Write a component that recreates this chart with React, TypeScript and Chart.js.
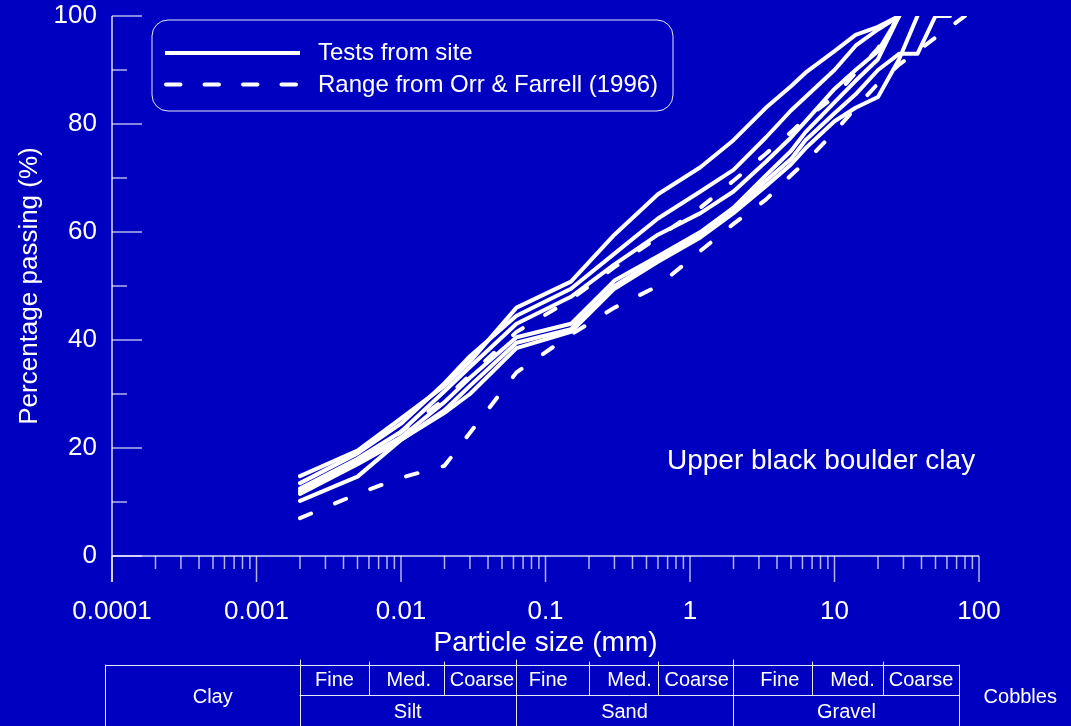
import { useEffect, useRef } from 'react';
import { Chart, registerables } from 'chart.js';

Chart.register(...registerables);

// ---- data ----
const sieveSizes = [0.002, 0.005, 0.01, 0.02, 0.03, 0.063, 0.15, 0.3, 0.6, 1.18, 2, 3.35, 5, 6.3, 10, 14, 20, 28, 37.5, 50, 63];
const test1 = [14.8, 19.5, 25.5, 31.5, 36, 46, 50.8, 59.5, 67, 72, 77, 83, 87, 89.5, 93.5, 96.5, 98, 100];
const test2 = [13.5, 19, 24.5, 32, 37, 44.5, 49.5, 56, 62.5, 67.5, 71.5, 77.5, 82.5, 85, 90, 94.5, 97.5, 100];
const test3 = [12.5, 18, 23, 30.5, 35, 43, 48, 54, 59.5, 63.5, 67.5, 73, 77.5, 80.5, 86.5, 90, 93.5, 100];
const test4 = [12, 17.5, 22, 28.5, 33, 40.5, 43, 51, 55.5, 60, 64.5, 70.5, 75, 78.5, 84, 88, 92, 100];
const test5 = [11.5, 17, 21.5, 27, 31.5, 39.5, 42, 50, 55, 59.5, 64, 69.5, 73.5, 77, 82, 85.5, 90, 93, 93, 100, 100];
const test6 = [10.2, 14.7, 21.5, 26.5, 30, 38.5, 41.5, 49.5, 54.5, 59, 63.5, 68.5, 72.5, 75.5, 80.5, 83, 85, 92, 100];

const rangeHighSizes = [0.002, 0.005, 0.01, 0.02, 0.03, 0.063, 0.15, 0.3, 0.6, 1.18, 2, 3.35, 5, 6.3, 10, 14, 20, 28];
const rangeHigh = [12, 17, 23, 29, 33.5, 41.5, 47.5, 53.5, 59, 64.5, 69.5, 74.5, 78.5, 81, 85, 89.5, 94, 100];
const rangeLowSizes = [0.002, 0.005, 0.01, 0.02, 0.063, 0.15, 0.3, 0.6, 1.18, 2, 3.35, 5, 6.3, 10, 14, 20, 28, 37.5, 50, 80];
const rangeLow = [7, 11.5, 14.5, 16.7, 34, 41, 46, 50, 56.5, 61.5, 66, 70.5, 73, 78.5, 83, 87.5, 91, 93.5, 96, 100];

const xTickValues = [0.0001, 0.001, 0.01, 0.1, 1, 10, 100];
const yTickStep = 20;

// soil classification table (particle size boundaries in mm)
const tableBounds = [0.00009, 0.002, 0.006, 0.02, 0.062, 0.2, 0.6, 2, 7, 21.6, 73];
const subLabels = ['Fine', 'Med.', 'Coarse'];
const subLabelShift = [0, 2, 2, -4, 6, 1, 7, 5, 0];
const mainLabels = ['Silt', 'Sand', 'Gravel'];

const legendLabels = ['Tests from site', 'Range from Orr & Farrell (1996)'];
const annotation = 'Upper black boulder clay';

const BG = '#0000c0';
const FONT = '"Liberation Sans", Arial, Helvetica, sans-serif';

function pts(sizes: number[], vals: number[]) {
  return vals.map((v, i) => ({ x: sizes[i], y: v }));
}

const overlay = {
  id: 'overlay',
  afterDraw(chart: any) {
    const ctx = chart.ctx as CanvasRenderingContext2D;
    const xs = chart.scales.x;
    const ys = chart.scales.y;
    const a = chart.chartArea;
    ctx.save();

    // axes lines
    ctx.strokeStyle = 'rgba(255,255,255,0.85)';
    ctx.lineWidth = 1.5;
    ctx.beginPath();
    ctx.moveTo(a.left, a.top);
    ctx.lineTo(a.left, a.bottom + 26);
    ctx.moveTo(a.left, a.bottom);
    ctx.lineTo(a.right, a.bottom);
    ctx.stroke();

    // y ticks (inward)
    ctx.strokeStyle = 'rgba(255,255,255,0.7)';
    ctx.beginPath();
    for (let v = 0; v <= 100; v += 10) {
      const py = ys.getPixelForValue(v);
      const len = v % 20 === 0 ? 30 : 15;
      ctx.moveTo(a.left, py);
      ctx.lineTo(a.left + len, py);
    }
    ctx.stroke();

    // x ticks (outward)
    ctx.beginPath();
    for (let d = -4; d <= 2; d++) {
      for (let m = 1; m <= 9; m++) {
        const v = m * Math.pow(10, d);
        if (v > 100.0001) break;
        const px = xs.getPixelForValue(v);
        const len = m === 1 ? 26 : 13;
        ctx.moveTo(px, a.bottom);
        ctx.lineTo(px, a.bottom + len);
      }
    }
    ctx.stroke();

    // axis titles
    ctx.fillStyle = '#ffffff';
    ctx.font = `28px ${FONT}`;
    ctx.textAlign = 'center';
    ctx.textBaseline = 'alphabetic';
    ctx.fillText('Particle size (mm)', (a.left + a.right) / 2, a.bottom + 95);
    ctx.font = `26px ${FONT}`;
    ctx.save();
    ctx.translate(37, (a.top + a.bottom) / 2);
    ctx.rotate(-Math.PI / 2);
    ctx.fillText('Percentage passing (%)', 0, 0);
    ctx.restore();

    // legend
    const lx = a.left + 40, ly = a.top + 4, lw = 521, lh = 91, r = 16;
    ctx.strokeStyle = 'rgba(255,255,255,0.9)';
    ctx.lineWidth = 1;
    ctx.beginPath();
    ctx.moveTo(lx + r, ly);
    ctx.lineTo(lx + lw - r, ly);
    ctx.arcTo(lx + lw, ly, lx + lw, ly + r, r);
    ctx.lineTo(lx + lw, ly + lh - r);
    ctx.arcTo(lx + lw, ly + lh, lx + lw - r, ly + lh, r);
    ctx.lineTo(lx + r, ly + lh);
    ctx.arcTo(lx, ly + lh, lx, ly + lh - r, r);
    ctx.lineTo(lx, ly + r);
    ctx.arcTo(lx, ly, lx + r, ly, r);
    ctx.stroke();

    ctx.strokeStyle = '#ffffff';
    ctx.lineWidth = 4;
    ctx.lineCap = 'butt';
    ctx.beginPath();
    ctx.moveTo(lx + 13, ly + 33);
    ctx.lineTo(lx + 148, ly + 33);
    ctx.stroke();
    ctx.lineCap = 'round';
    ctx.setLineDash([14.5, 24]);
    ctx.beginPath();
    ctx.moveTo(lx + 14, ly + 64.5);
    ctx.lineTo(lx + 148, ly + 64.5);
    ctx.stroke();
    ctx.setLineDash([]);

    ctx.font = `24px ${FONT}`;
    ctx.textAlign = 'left';
    ctx.textBaseline = 'middle';
    ctx.fillText(legendLabels[0], lx + 166, ly + 33);
    ctx.fillText(legendLabels[1], lx + 166, ly + 65);

    // annotation
    ctx.font = `28px ${FONT}`;
    ctx.fillText(annotation, 667, ys.getPixelForValue(17.6));

    // classification table
    const px = tableBounds.map((v) => xs.getPixelForValue(v));
    const tTop = a.bottom + 109;
    const tMid = a.bottom + 139;
    const tBot = chart.height;
    ctx.strokeStyle = 'rgba(255,255,255,0.9)';
    ctx.lineWidth = 1;
    ctx.beginPath();
    ctx.moveTo(px[0], tTop + 0.5);
    ctx.lineTo(px[10], tTop + 0.5);
    ctx.moveTo(px[1], tMid + 0.5);
    ctx.lineTo(px[10], tMid + 0.5);
    [0, 1, 4, 7, 10].forEach((i) => {
      const xx = Math.round(px[i]) + 0.5;
      ctx.moveTo(xx, i === 0 || i === 10 ? tTop : tTop - 5);
      ctx.lineTo(xx, tBot);
    });
    [2, 3, 5, 6, 8, 9].forEach((i) => {
      const xx = Math.round(px[i]) + 0.5;
      ctx.moveTo(xx, tTop - 3);
      ctx.lineTo(xx, tMid);
    });
    ctx.stroke();

    ctx.font = `20px ${FONT}`;
    ctx.textAlign = 'center';
    ctx.textBaseline = 'middle';
    ctx.fillText('Clay', (px[0] + px[1]) / 2 + 10, tTop + 32);
    for (let g = 0; g < 3; g++) {
      const b0 = 1 + g * 3;
      for (let s = 0; s < 3; s++) {
        ctx.fillText(subLabels[s], (px[b0 + s] + px[b0 + s + 1]) / 2 + subLabelShift[g * 3 + s], tTop + 15);
      }
      ctx.fillText(mainLabels[g], (px[b0] + px[b0 + 3]) / 2, tMid + 17);
    }
    ctx.fillText('Cobbles', px[10] + 61, tTop + 32);

    ctx.restore();
  },
};

export default function App() {
  const ref = useRef<HTMLCanvasElement | null>(null);

  useEffect(() => {
    const canvas = ref.current;
    if (!canvas) return;
    const solid = (vals: number[]) => ({
      data: pts(sieveSizes, vals),
      borderColor: '#ffffff',
      borderWidth: 4,
      pointRadius: 0,
      tension: 0,
      borderCapStyle: 'round' as const,
      borderJoinStyle: 'round' as const,
      fill: false,
    });
    const dashed = (sizes: number[], vals: number[]) => ({
      data: pts(sizes, vals),
      borderColor: '#ffffff',
      borderWidth: 4,
      borderDash: [12, 26],
      pointRadius: 0,
      tension: 0,
      borderCapStyle: 'round' as const,
      borderJoinStyle: 'round' as const,
      fill: false,
    });

    const chart = new Chart(canvas, {
      type: 'line',
      data: {
        datasets: [
          dashed(rangeLowSizes, rangeLow),
          dashed(rangeHighSizes, rangeHigh),
          solid(test1),
          solid(test2),
          solid(test3),
          solid(test4),
          solid(test5),
          solid(test6),
        ] as any,
      },
      options: {
        responsive: false,
        animation: false,
        events: [],
        layout: { padding: { top: 16, right: 92, bottom: 0, left: 0 } },
        plugins: { legend: { display: false }, tooltip: { enabled: false } },
        scales: {
          x: {
            type: 'logarithmic',
            min: 0.0001,
            max: 100,
            border: { display: false },
            grid: { display: false, drawTicks: false },
            afterBuildTicks: (s: any) => {
              s.ticks = xTickValues.map((v) => ({ value: v }));
            },
            afterFit: (s: any) => {
              s.height = 170;
              s.paddingLeft = 0;
              s.paddingRight = 0;
            },
            ticks: {
              color: '#ffffff',
              font: { family: FONT, size: 26 },
              padding: 40,
              maxRotation: 0,
              autoSkip: false,
              callback: (v: any) => String(Number(v)),
            },
          },
          y: {
            type: 'linear',
            min: 0,
            max: 100,
            border: { display: false },
            grid: { display: false, drawTicks: false },
            afterFit: (s: any) => {
              s.width = 112;
              s.paddingTop = 0;
              s.paddingBottom = 0;
            },
            ticks: {
              stepSize: yTickStep,
              color: '#ffffff',
              font: { family: FONT, size: 26 },
              padding: 15,
            },
          },
        },
      },
      plugins: [overlay],
    });
    return () => chart.destroy();
  }, []);

  return (
    <div style={{ position: 'absolute', left: 0, top: 0, width: 1071, height: 726, background: BG, overflow: 'hidden' }}>
      <canvas ref={ref} width={1071} height={726} style={{ display: 'block' }} />
    </div>
  );
}
